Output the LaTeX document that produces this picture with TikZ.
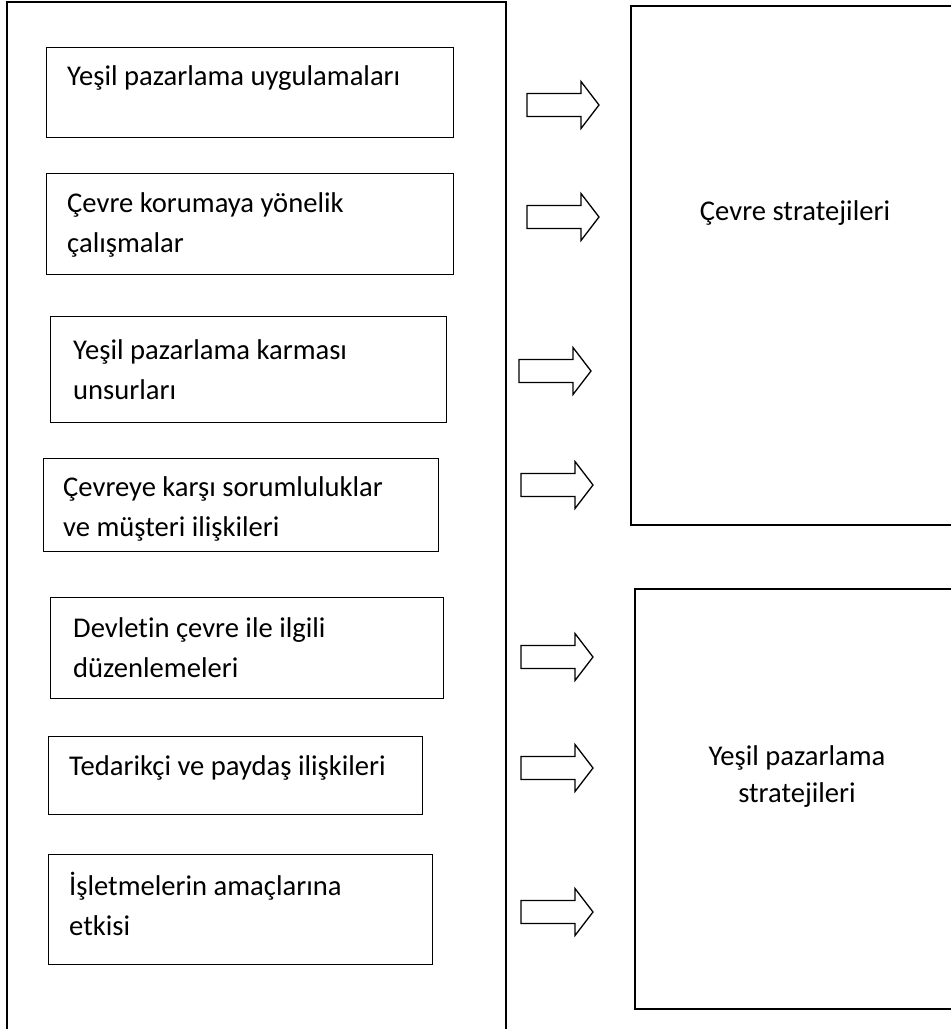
\documentclass[tikz,border=0pt]{standalone}
\usepackage{fontspec}
\setmainfont{Carlito}[Ligatures={NoCommon}]
\begin{document}
\begin{tikzpicture}[x=1pt,y=-1pt,
  box/.style={draw, line width=1.4pt, inner sep=0pt, anchor=north west},
  bigbox/.style={draw, line width=1.8pt, inner sep=0pt, anchor=north west},
  lbl/.style={anchor=base west, inner sep=0pt, font=\fontsize{28.6}{40}\selectfont, align=left},
  clbl/.style={anchor=base, inner sep=0pt, font=\fontsize{28.6}{37}\selectfont, align=center},
  blockarr/.pic={\draw[line width=1.3pt, line join=miter] (0,-11.5) -- (54,-11.5) -- (54,-23.5) -- (72,0) -- (54,23.5) -- (54,11.5) -- (0,11.5) -- cycle;}
]
\useasboundingbox (0,0) rectangle (951,1029);
% outer container
\draw[line width=1.8pt] (7,1029) -- (7,2) -- (506,2) -- (506,1029);
% left boxes (multi-line labels are placed by the baseline of their last line)
\node[box, minimum width=407pt, minimum height=90pt] (b1) at (46,47) {};
\node[lbl] (t1) at (67,85) {Yeşil pazarlama uygulamaları};
\node[box, minimum width=407pt, minimum height=101pt] (b2) at (46,173) {};
\node[lbl] (t2) at (67,252) {Çevre korumaya yönelik\\çalışmalar};
\node[box, minimum width=396pt, minimum height=106pt] (b3) at (50,316) {};
\node[lbl] (t3) at (73,399) {Yeşil pazarlama karması\\unsurları};
\node[box, minimum width=395pt, minimum height=93pt] (b4) at (43,458) {};
\node[lbl] (t4) at (63,536) {Çevreye karşı sorumluluklar\\ve müşteri ilişkileri};
\node[box, minimum width=393pt, minimum height=101pt] (b5) at (50,597) {};
\node[lbl] (t5) at (73,677) {Devletin çevre ile ilgili\\düzenlemeleri};
\node[box, minimum width=374pt, minimum height=78pt] (b6) at (48,736) {};
\node[lbl] (t6) at (69,775) {Tedarikçi ve paydaş ilişkileri};
\node[box, minimum width=384pt, minimum height=110pt] (b7) at (48,854) {};
\node[lbl] (t7) at (69,935) {İşletmelerin amaçlarına\\etkisi};
% right boxes
\node[bigbox, minimum width=330pt, minimum height=519pt] (r1) at (630,5) {};
\node[clbl] (rt1) at (795,220) {Çevre stratejileri};
\node[bigbox, minimum width=330pt, minimum height=420pt] (r2) at (634,588) {};
\node[clbl] (rt2) at (797,802) {Yeşil pazarlama\\stratejileri};
% block arrows
\pic at (527,105) {blockarr};
\pic at (527,217) {blockarr};
\pic at (519,371) {blockarr};
\pic at (521,485) {blockarr};
\pic at (521,657) {blockarr};
\pic at (521,768) {blockarr};
\pic at (521,912) {blockarr};
\end{tikzpicture}
\end{document}
